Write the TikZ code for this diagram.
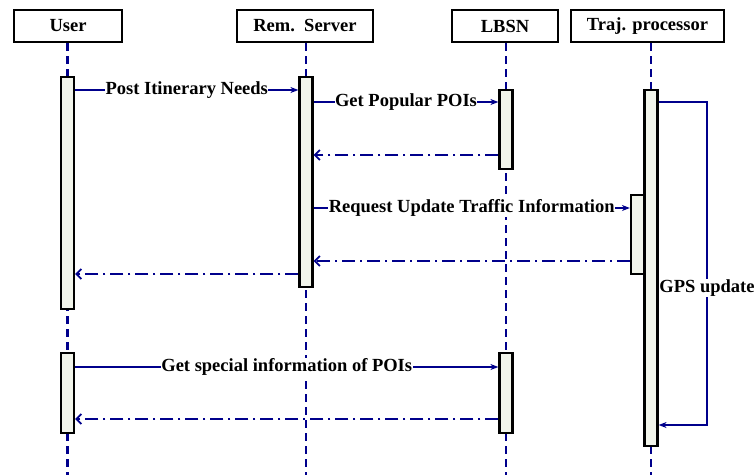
\documentclass[tikz,border=0pt]{standalone}
\usepackage{fontspec}
\setmainfont{Liberation Serif}
\usetikzlibrary{arrows.meta,backgrounds}
\definecolor{msgblue}{RGB}{0,0,140}
\definecolor{actfill}{RGB}{242,245,235}
\tikzset{
  head/.style={draw=black, line width=2pt, fill=white, minimum height=32pt,
    inner sep=0pt, font=\bfseries\fontsize{18.5}{20}\selectfont},
  life/.style={draw=msgblue, line width=2.5pt, dash pattern=on 8pt off 5pt},
  act/.style={draw=black, line width=2.2pt, fill=actfill, minimum width=13pt, inner sep=0pt},
  call/.style={draw=msgblue, line width=1.8pt, -{Stealth[length=8pt,width=6pt]}},
  reply/.style={draw=msgblue, line width=1.8pt, dash pattern=on 13pt off 5pt on 2pt off 5pt,
    -{Straight Barb[length=5pt,width=10pt]}},
  lbl/.style={fill=white, inner sep=0.5pt, font=\bfseries\fontsize{18.5}{20}\selectfont}
}
\begin{document}
\begin{tikzpicture}[x=1pt,y=-1pt]
\useasboundingbox (0,0) rectangle (756,475);

% heads
\node[head, minimum width=108pt] (user) at (68,26) {User};
\node[head, minimum width=136pt] (rem) at (305,26) {Rem.\ \ Server};
\node[head, minimum width=106pt] (lbsn) at (505,26) {LBSN};
\node[head, minimum width=153pt] (traj) at (647.5,26) {Traj. processor};

% activations
\node[act, minimum height=232pt] (ua1) at (67.5,193) {};
\node[act, minimum height=80pt] (ua2) at (67.5,393) {};
\node[act, minimum height=210pt] (ra) at (306,182) {};
\node[act, minimum height=79pt] (la1) at (506,129.5) {};
\node[act, minimum height=80pt] (la2) at (506,393) {};
\node[act, minimum height=356pt] (ta) at (651,268) {};
\node[act, minimum height=79pt] (tb) at (637.5,234.5) {};

% lifelines
\begin{scope}[on background layer]
\foreach \h/\a in {user/ua1, rem/ra, lbsn/la1, traj/ta}
  \draw[life] (\h.south -| \a) -- (\a |- 0,475);
\end{scope}

% first request
\draw[call] (ua1.east |- 0,90) -- node[lbl] {Post Itinerary Needs} (ra.west |- 0,90);
\draw[call] (ra.east |- 0,102) -- node[lbl] {Get Popular POIs} (la1.west |- 0,102);
\draw[reply] (la1.west |- 0,155) -- (ra.east |- 0,155);
\draw[call] (ra.east |- 0,208) -- node[lbl] {Request Update Traffic Information} (tb.west |- 0,208);
\draw[reply] (tb.west |- 0,261) -- (ra.east |- 0,261);
\draw[reply] (ra.west |- 0,274) -- (ua1.east |- 0,274);

% GPS loop
\draw[call] (ta.east |- 0,102) -- (707,102) -- node[lbl, pos=0.575] {GPS update} (707,425) -- (ta.east |- 0,425);

% second request
\draw[call] (ua2.east |- 0,367) -- node[lbl] {Get special information of POIs} (la2.west |- 0,367);
\draw[reply] (la2.west |- 0,419) -- (ua2.east |- 0,419);
\end{tikzpicture}
\end{document}
